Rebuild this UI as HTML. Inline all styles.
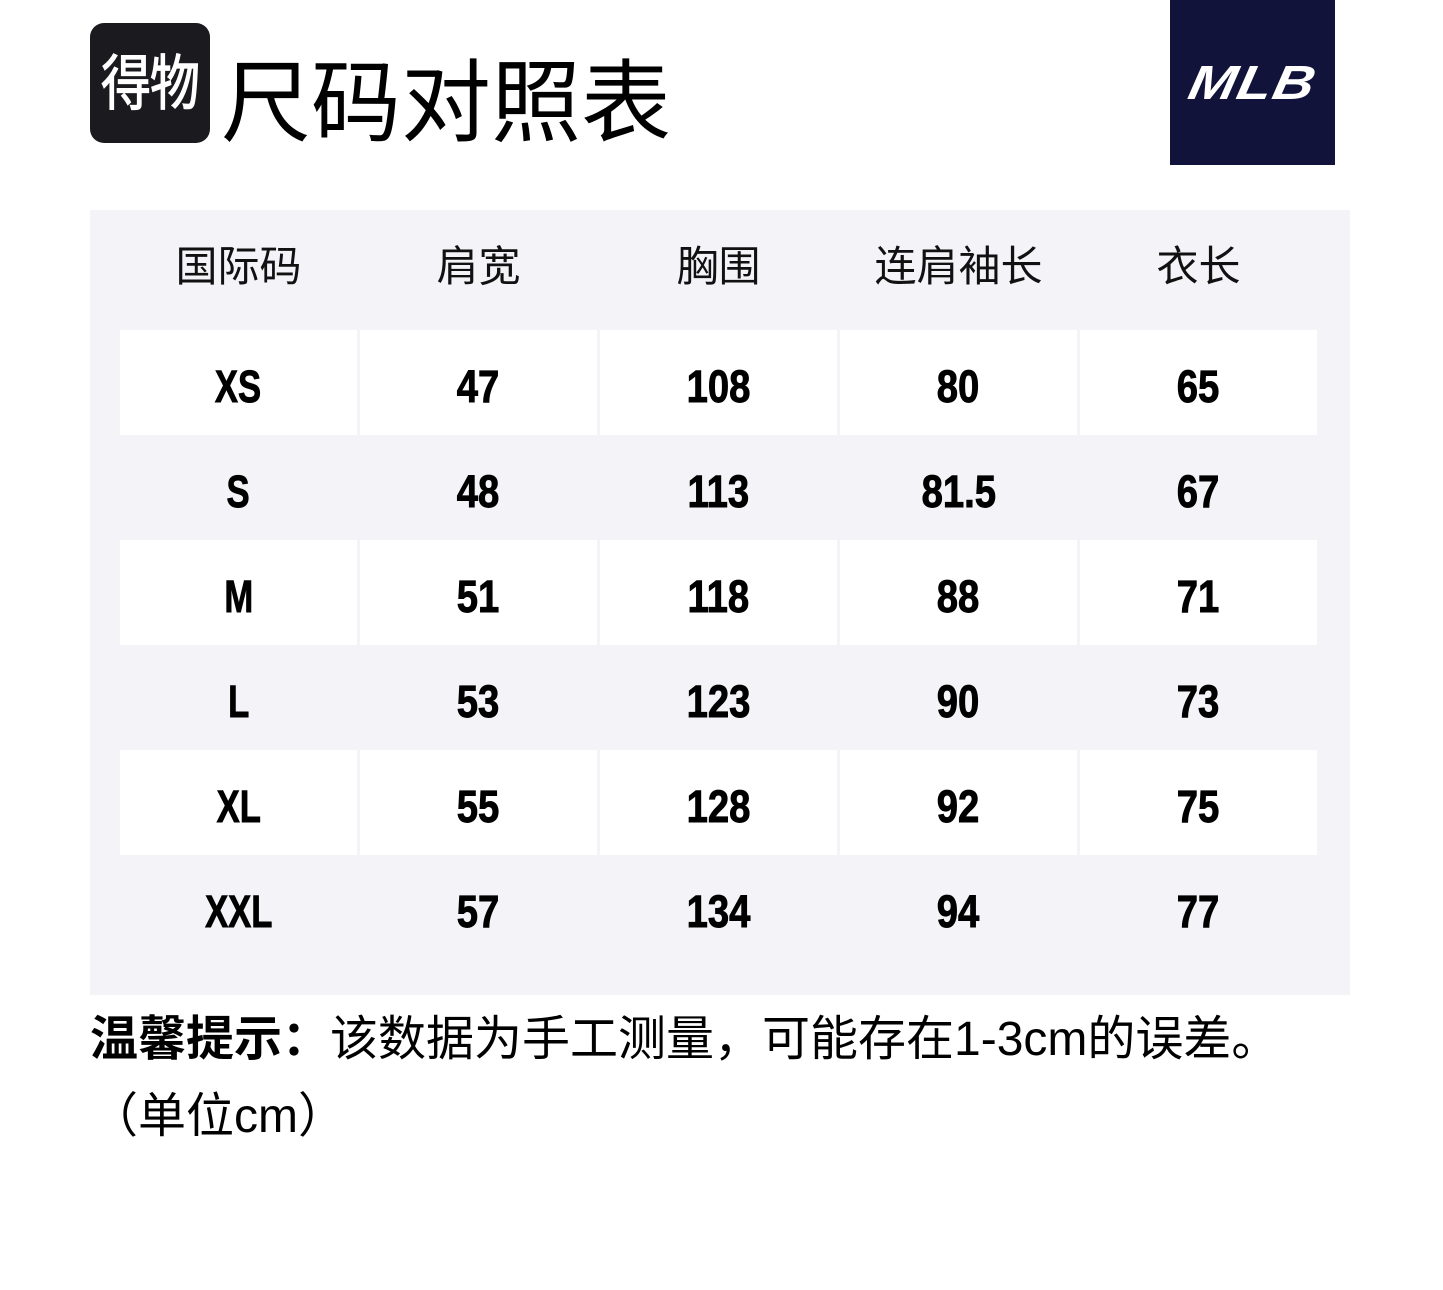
<!DOCTYPE html>
<html><head><meta charset="utf-8">
<style>
*{margin:0;padding:0;box-sizing:border-box}
html,body{width:1443px;height:1290px;background:#fff;overflow:hidden}
body{position:relative;font-family:"Liberation Sans","Noto Sans CJK SC",sans-serif;color:#000}
.abs{position:absolute}
#logo{left:90px;top:23px;width:120px;height:120px;background:#1b1b1f;border-radius:14px}
#logo span{position:absolute;left:0;width:120px;top:36px;text-align:center;color:#fff;font-size:50px;line-height:50px;font-weight:normal;-webkit-text-stroke:1px #fff;letter-spacing:-1px;transform:scaleY(1.2)}
#title{left:221px;top:59px;font-size:90px;line-height:90px;white-space:nowrap;color:#000}
#mlb{left:1170px;top:0;width:165px;height:165px;background:#11133a}
#mlb span{position:absolute;left:0;width:165px;top:60px;text-align:center;color:#fff;font-size:48px;line-height:48px;font-weight:bold;font-style:italic;transform:scaleX(1.18) skewX(-10deg);letter-spacing:1px}
#tbl{left:90px;top:210px;width:1260px;height:785px;background:#f4f4f8}
.h{position:absolute;top:246px;width:237px;text-align:center;font-size:42px;line-height:42px;color:#111;white-space:nowrap}
.c{position:absolute;width:237px;height:105px;text-align:center;line-height:105px;font-size:45px;font-weight:bold}
.c span{display:inline-block;position:relative;top:4px;transform:scaleX(0.85);-webkit-text-stroke:0.9px #000}
.c span.t{transform:scaleX(0.77)}
.w{background:#fff}
#f1{left:90px;top:1016px;font-size:48px;line-height:48px;white-space:nowrap;color:#000}
#f2{left:90px;top:1093px;font-size:48px;line-height:48px;white-space:nowrap;color:#000}
</style></head>
<body>
<div id="logo" class="abs"><span>得物</span></div>
<div id="title" class="abs">尺码对照表</div>
<div id="mlb" class="abs"><span>MLB</span></div>
<div id="tbl" class="abs"></div>

<div class="h" style="left:120px">国际码</div>
<div class="h" style="left:360px">肩宽</div>
<div class="h" style="left:600px">胸围</div>
<div class="h" style="left:840px">连肩袖长</div>
<div class="h" style="left:1080px">衣长</div>

<div class="c w" style="left:120px;top:330px"><span class="t">XS</span></div>
<div class="c w" style="left:360px;top:330px"><span>47</span></div>
<div class="c w" style="left:600px;top:330px"><span>108</span></div>
<div class="c w" style="left:840px;top:330px"><span>80</span></div>
<div class="c w" style="left:1080px;top:330px"><span>65</span></div>

<div class="c" style="left:120px;top:435px"><span class="t">S</span></div>
<div class="c" style="left:360px;top:435px"><span>48</span></div>
<div class="c" style="left:600px;top:435px"><span>113</span></div>
<div class="c" style="left:840px;top:435px"><span>81.5</span></div>
<div class="c" style="left:1080px;top:435px"><span>67</span></div>

<div class="c w" style="left:120px;top:540px"><span class="t">M</span></div>
<div class="c w" style="left:360px;top:540px"><span>51</span></div>
<div class="c w" style="left:600px;top:540px"><span>118</span></div>
<div class="c w" style="left:840px;top:540px"><span>88</span></div>
<div class="c w" style="left:1080px;top:540px"><span>71</span></div>

<div class="c" style="left:120px;top:645px"><span class="t">L</span></div>
<div class="c" style="left:360px;top:645px"><span>53</span></div>
<div class="c" style="left:600px;top:645px"><span>123</span></div>
<div class="c" style="left:840px;top:645px"><span>90</span></div>
<div class="c" style="left:1080px;top:645px"><span>73</span></div>

<div class="c w" style="left:120px;top:750px"><span class="t">XL</span></div>
<div class="c w" style="left:360px;top:750px"><span>55</span></div>
<div class="c w" style="left:600px;top:750px"><span>128</span></div>
<div class="c w" style="left:840px;top:750px"><span>92</span></div>
<div class="c w" style="left:1080px;top:750px"><span>75</span></div>

<div class="c" style="left:120px;top:855px"><span class="t">XXL</span></div>
<div class="c" style="left:360px;top:855px"><span>57</span></div>
<div class="c" style="left:600px;top:855px"><span>134</span></div>
<div class="c" style="left:840px;top:855px"><span>94</span></div>
<div class="c" style="left:1080px;top:855px"><span>77</span></div>

<div id="f1" class="abs"><b>温馨提示：</b>该数据为手工测量，可能存在1-3cm的误差。</div>
<div id="f2" class="abs">（单位cm）</div>
</body></html>
